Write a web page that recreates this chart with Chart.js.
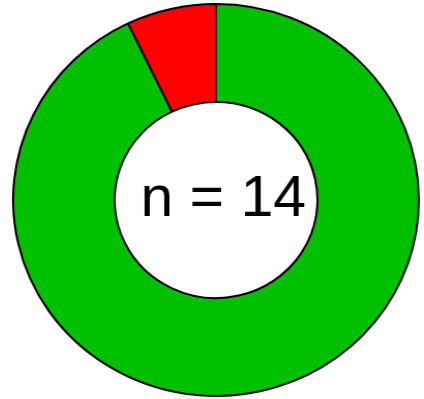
<!DOCTYPE html>
<html>
<head>
<meta charset="utf-8">
<script src="https://cdn.jsdelivr.net/npm/chart.js@4/dist/chart.umd.min.js"></script>
<style>
  html, body { margin: 0; padding: 0; background: #fff; overflow: hidden; }
  /* the reference ring is a little wider than tall */
  #wrap { position: absolute; left: 19px; top: 3px; width: 394px; height: 394px;
          transform: scaleX(1.035); transform-origin: 50% 50%; }
</style>
</head>
<body>
<div id="wrap"><canvas id="ringChart"></canvas></div>
<script>
const labels = ['Yes', 'No'];
const counts = [13, 1];
const colors = ['#00c000', '#ff0000'];
const centerText = 'n = 14';

// draws the "n = 14" label in the hole
const centerLabel = {
    id: 'centerLabel',
    afterDraw(chart) {
        const arc = chart.getDatasetMeta(0).data[0];
        const ctx = chart.ctx;
        ctx.save();
        ctx.font = '57px "Liberation Sans", Arial, sans-serif';
        ctx.fillStyle = '#000';
        ctx.textAlign = 'center';
        ctx.textBaseline = 'middle';
        ctx.fillText(centerText, arc.x + 7, arc.y);
        ctx.restore();
    }
};

new Chart(document.getElementById('ringChart'), {
    type: 'doughnut',
    data: {
        labels: labels,
        datasets: [{
            data: counts,
            backgroundColor: colors,
            borderColor: '#000',
            borderWidth: 2,
            borderAlign: 'center'
        }]
    },
    options: {
        responsive: true,
        maintainAspectRatio: false,
        animation: false,
        cutout: '50%',
        plugins: {
            legend: { display: false },
            tooltip: { enabled: false }
        }
    },
    plugins: [centerLabel]
});
</script>
</body>
</html>
